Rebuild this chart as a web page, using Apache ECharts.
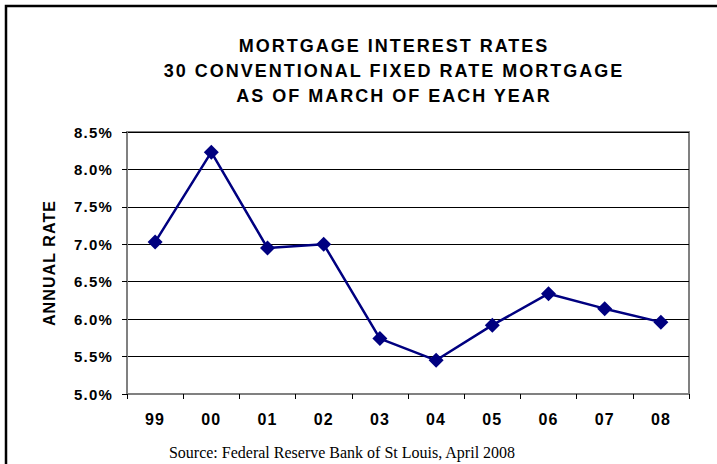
<!DOCTYPE html>
<html>
<head>
<meta charset="utf-8">
<script src="https://cdn.jsdelivr.net/npm/echarts@6/dist/echarts.min.js"></script>
<style>
    html, body { margin: 0; padding: 0; background: #fff; }
    #main { width: 717px; height: 464px; }
    /* Excel-style spaced lettering */
    #main text[style*="18px"] { letter-spacing: 2px; }
    #main text[style*="15px"] { letter-spacing: 1.2px; }
    #main text[style*="16px"] { letter-spacing: 1.1px; }
    #main text[style*="Serif"] { letter-spacing: 0; }
</style>
</head>
<body>
<div id="main"></div>
<script>
// 年份（3月）
var years = ['99', '00', '01', '02', '03', '04', '05', '06', '07', '08'];
// 30年固定利率 %
var rates = [7.03, 8.23, 6.95, 7.00, 5.74, 5.45, 5.92, 6.34, 6.14, 5.96];
// y轴刻度范围
var yMin = 5.0;
var yMax = 8.5;
var yStep = 0.5;

var titleLines = [
    'MORTGAGE INTEREST RATES',
    '30 CONVENTIONAL FIXED RATE MORTGAGE',
    'AS OF MARCH OF EACH YEAR'
];
var sourceText = 'Source: Federal Reserve Bank of St Louis, April 2008';

var myChart = echarts.init(document.getElementById('main'), null, { renderer: 'svg' });

var option = {
    backgroundColor: '#fff',
    animation: false,
    //标题
    title: {
        text: titleLines.join('\n'),
        left: 389,
        top: 28,
        textAlign: 'center',
        textStyle: {
            fontFamily: 'Liberation Sans',
            fontWeight: 'bold',
            fontSize: 18,
            lineHeight: 25.3,
            color: '#000'
        }
    },
    grid: {
        left: 127,
        right: 28,
        top: 132,
        bottom: 70,
        show: true,
        borderColor: '#808080',
        borderWidth: 2,
        backgroundColor: '#fff'
    },
    xAxis: {
        type: 'category',
        data: years,
        boundaryGap: true,
        axisLine: { lineStyle: { color: '#808080', width: 2 } },
        axisTick: { show: true, length: 5, lineStyle: { color: '#000' } },
        axisLabel: {
            margin: 17,
            fontFamily: 'Liberation Sans',
            fontWeight: 'bold',
            fontSize: 16,
            color: '#000'
        },
        splitLine: { show: false }
    },
    yAxis: {
        type: 'value',
        min: yMin,
        max: yMax,
        interval: yStep,
        name: 'ANNUAL RATE',
        nameLocation: 'middle',
        nameRotate: 90,
        nameGap: 70,
        nameTextStyle: {
            fontFamily: 'Liberation Sans',
            fontWeight: 'bold',
            fontSize: 16,
            color: '#000'
        },
        axisLine: { show: true, lineStyle: { color: '#808080', width: 2 } },
        axisTick: { show: true, length: 5, lineStyle: { color: '#000' } },
        axisLabel: {
            margin: 14,
            fontFamily: 'Liberation Sans',
            fontWeight: 'bold',
            fontSize: 15,
            color: '#000',
            formatter: function (v) { return v.toFixed(1) + '%'; }
        },
        splitLine: { show: true, lineStyle: { color: '#000', width: 1 } }
    },
    series: [{
        name: 'rate',
        type: 'line',
        data: rates,
        symbol: 'diamond',
        symbolSize: 15,
        lineStyle: { color: '#000080', width: 2.5 },
        itemStyle: { color: '#000080' }
    }],
    graphic: [
        {
            // 外框
            type: 'rect',
            shape: { x: 6, y: 6, width: 730, height: 480 },
            style: { fill: 'none', stroke: '#000', lineWidth: 2.5 },
            silent: true
        },
        {
            type: 'text',
            x: 342,
            y: 452,
            style: {
                text: sourceText,
                font: '16px "Liberation Serif"',
                fill: '#000',
                textAlign: 'center',
                textVerticalAlign: 'middle'
            }
        }
    ]
};

myChart.setOption(option);
</script>
</body>
</html>
